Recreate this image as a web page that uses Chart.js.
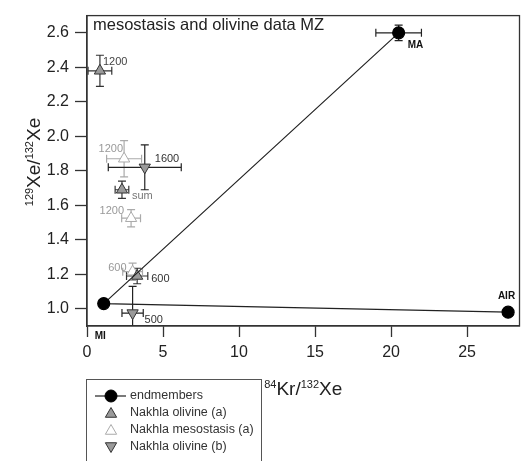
<!DOCTYPE html>
<html>
<head>
<meta charset="utf-8">
<script src="https://cdn.jsdelivr.net/npm/chart.js@4.4.1/dist/chart.umd.min.js"></script>
<style>
  body { margin: 0; background: #fff; }
  #wrap { width: 527px; height: 461px; position: relative; }
</style>
</head>
<body>
<div id="wrap"><canvas id="grafico"></canvas></div>
<script>
const FONT = "'Liberation Sans', Arial, sans-serif";

// endmembers, connected MA - MI - AIR
const endNames = ['MA', 'MI', 'AIR'];
const endX = [20.5, 1.1, 27.7];
const endY = [2.60, 1.03, 0.98];
const endXErr = [1.5, 0, 0];
const endYErr = [0.045, 0, 0];

// Nakhla olivine (a)
const olAStep = ['1200', 'sum', '600'];
const olAX = [0.85, 2.3, 3.3];
const olAY = [2.38, 1.69, 1.19];
const olAXErr = [0.78, 0.45, 0.7];
const olAYErr = [0.09, 0.05, 0.045];

// Nakhla mesostasis (a)
const mesoStep = ['1200', '1200', '600'];
const mesoX = [2.44, 2.9, 3.0];
const mesoY = [1.87, 1.525, 1.215];
const mesoXErr = [1.15, 0.62, 0.65];
const mesoYErr = [0.105, 0.05, 0.05];

// Nakhla olivine (b)
const olBStep = ['1600', '500'];
const olBX = [3.8, 3.0];
const olBY = [1.82, 0.975];
const olBXErr = [2.4, 0.7];
const olBYErr = [0.13, 0.155];

const xTicks = [0, 5, 10, 15, 20, 25];
const yTicks = [1.0, 1.2, 1.4, 1.6, 1.8, 2.0, 2.2, 2.4, 2.6];

// where each step label sits next to its point: [dx, dy, align, color, bold]
const labelPlace = [
  [[9, 12, 'left', '#111', true], [-9, 33, 'left', '#111', true], [7, -16, 'right', '#111', true]],
  [[3, -9, 'left', '#444'], [10, 6, 'left', '#777'], [14, 3, 'left', '#333']],
  [[-1, -10, 'right', '#999'], [-7, -7, 'right', '#999'], [-6, -4, 'right', '#999']],
  [[10, -8, 'left', '#333'], [12, 7, 'left', '#333']]
];

function toPts(xs, ys) {
  return xs.map((x, i) => ({ x: x, y: ys[i] }));
}

function drawSupText(ctx, parts, x, y, size, supSize) {
  let w = 0;
  parts.forEach(p => {
    ctx.font = (p[1] ? supSize : size) + 'px ' + FONT;
    w += ctx.measureText(p[0]).width;
  });
  let cx = x - w / 2;
  ctx.textAlign = 'left';
  ctx.textBaseline = 'alphabetic';
  parts.forEach(p => {
    ctx.font = (p[1] ? supSize : size) + 'px ' + FONT;
    ctx.fillText(p[0], cx, p[1] ? y - 7 : y);
    cx += ctx.measureText(p[0]).width;
  });
}

const errPlugin = {
  id: 'errorbars',
  beforeDatasetsDraw(chart) {
    const ctx = chart.ctx, sx = chart.scales.x, sy = chart.scales.y, a = chart.chartArea;
    ctx.save();
    ctx.beginPath();
    ctx.rect(a.left, a.top, a.right - a.left, a.bottom - a.top);
    ctx.clip();
    chart.data.datasets.forEach(ds => {
      ctx.strokeStyle = ds.errColor;
      ctx.lineWidth = 1.2;
      ds.data.forEach((p, i) => {
        const px = sx.getPixelForValue(p.x), py = sy.getPixelForValue(p.y);
        const ex = ds.xErr[i], ey = ds.yErr[i];
        ctx.beginPath();
        if (ex) {
          const l = sx.getPixelForValue(p.x - ex), r = sx.getPixelForValue(p.x + ex);
          ctx.moveTo(l, py); ctx.lineTo(r, py);
          ctx.moveTo(l, py - 4); ctx.lineTo(l, py + 4);
          ctx.moveTo(r, py - 4); ctx.lineTo(r, py + 4);
        }
        if (ey) {
          const t = sy.getPixelForValue(p.y + ey), b = sy.getPixelForValue(p.y - ey);
          ctx.moveTo(px, t); ctx.lineTo(px, b);
          ctx.moveTo(px - 4, t); ctx.lineTo(px + 4, t);
          ctx.moveTo(px - 4, b); ctx.lineTo(px + 4, b);
        }
        ctx.stroke();
      });
    });
    ctx.restore();
  },
  afterDatasetsDraw(chart) {
    const ctx = chart.ctx, sx = chart.scales.x, sy = chart.scales.y;
    ctx.save();
    ctx.textBaseline = 'middle';
    chart.data.datasets.forEach((ds, di) => {
      ds.data.forEach((p, i) => {
        const pl = labelPlace[di][i];
        ctx.font = (pl[4] ? 'bold 10px ' : '11px ') + FONT;
        ctx.fillStyle = pl[3];
        ctx.textAlign = pl[2];
        ctx.fillText(ds.steps[i], sx.getPixelForValue(p.x) + pl[0], sy.getPixelForValue(p.y) + pl[1]);
      });
    });
    ctx.restore();
  },
  afterDraw(chart) {
    const ctx = chart.ctx, a = chart.chartArea;
    ctx.save();
    // frame
    ctx.strokeStyle = '#333';
    ctx.lineWidth = 1.3;
    ctx.strokeRect(a.left, a.top, a.right - a.left, a.bottom - a.top);

    // inside title
    ctx.fillStyle = '#222';
    ctx.font = '16.5px ' + FONT;
    ctx.textAlign = 'left';
    ctx.textBaseline = 'alphabetic';
    ctx.fillText('mesostasis and olivine data MZ', a.left + 6, 30);

    // axis titles
    drawSupText(ctx, [['84', 1], ['Kr/', 0], ['132', 1], ['Xe', 0]], (a.left + a.right) / 2, 395, 19, 11);
    ctx.save();
    ctx.translate(40, 162);
    ctx.rotate(-Math.PI / 2);
    drawSupText(ctx, [['129', 1], ['Xe/', 0], ['132', 1], ['Xe', 0]], 0, 0, 19, 11);
    ctx.restore();

    // legend
    ctx.strokeStyle = '#555';
    ctx.lineWidth = 1;
    ctx.strokeRect(86.5, 379.5, 175, 100);
    chart.data.datasets.forEach((ds, i) => {
      const ly = 396 + i * 17;
      if (ds.showLine) {
        ctx.strokeStyle = ds.borderColor;
        ctx.lineWidth = 1.2;
        ctx.beginPath(); ctx.moveTo(95, ly); ctx.lineTo(126, ly); ctx.stroke();
      }
      ctx.fillStyle = ds.pointBackgroundColor;
      ctx.strokeStyle = ds.pointBorderColor;
      ctx.lineWidth = 1;
      Chart.helpers.drawPoint(ctx, {
        pointStyle: ds.pointStyle, radius: ds.pointRadius,
        rotation: ds.pointRotation || 0, borderWidth: 1
      }, 111, ly + (ds.pointStyle === 'triangle' ? (ds.pointRotation ? -1 : 1) : 0));
      ctx.fillStyle = '#333';
      ctx.font = '12.5px ' + FONT;
      ctx.textAlign = 'left';
      ctx.textBaseline = 'middle';
      ctx.fillText(ds.label, 130, ly);
    });
    ctx.restore();
  }
};

const ctx = document.getElementById('grafico').getContext('2d');

const grafico = new Chart(ctx, {
  type: 'scatter',
  data: {
    datasets: [
      {
        label: 'endmembers',
        data: toPts(endX, endY),
        steps: endNames, xErr: endXErr, yErr: endYErr, errColor: '#222',
        showLine: true,
        borderColor: '#222',
        borderWidth: 1.2,
        pointStyle: 'circle',
        pointRadius: 6,
        pointBackgroundColor: '#000',
        pointBorderColor: '#000',
        tension: 0,
      },
      {
        label: 'Nakhla olivine (a)',
        data: toPts(olAX, olAY),
        steps: olAStep, xErr: olAXErr, yErr: olAYErr, errColor: '#333',
        pointStyle: 'triangle',
        pointRadius: 6.5,
        pointBackgroundColor: '#9a9a9a',
        pointBorderColor: '#333',
        pointBorderWidth: 1,
      },
      {
        label: 'Nakhla mesostasis (a)',
        data: toPts(mesoX, mesoY),
        steps: mesoStep, xErr: mesoXErr, yErr: mesoYErr, errColor: '#aaa',
        pointStyle: 'triangle',
        pointRadius: 6.5,
        pointBackgroundColor: '#fff',
        pointBorderColor: '#aaa',
        pointBorderWidth: 1,
      },
      {
        label: 'Nakhla olivine (b)',
        data: toPts(olBX, olBY),
        steps: olBStep, xErr: olBXErr, yErr: olBYErr, errColor: '#222',
        pointStyle: 'triangle',
        pointRotation: 180,
        pointRadius: 6.5,
        pointBackgroundColor: '#9a9a9a',
        pointBorderColor: '#333',
        pointBorderWidth: 1,
      },
    ],
  },
  options: {
    responsive: true,
    maintainAspectRatio: false,
    animation: false,
    devicePixelRatio: 1,
    layout: { padding: { top: 10, right: 3, left: 0, bottom: 0 } },
    plugins: {
      legend: { display: false },
      tooltip: { enabled: false },
    },
    scales: {
      x: {
        type: 'linear',
        min: 0,
        max: 28.45,
        afterBuildTicks: s => { s.ticks = xTicks.map(v => ({ value: v })); },
        afterFit: s => { s.height = 135; },
        grid: { drawOnChartArea: false, drawTicks: true, tickLength: 11, color: '#333', tickWidth: 1.3 },
        border: { display: true, color: '#333', width: 1.3 },
        ticks: {
          padding: 6,
          color: '#222',
          font: { family: FONT, size: 16 },
          maxRotation: 0,
          callback: v => v,
        },
      },
      y: {
        type: 'linear',
        min: 0.9,
        max: 2.7,
        afterBuildTicks: s => { s.ticks = yTicks.map(v => ({ value: v })); },
        afterFit: s => { s.width = 87; },
        grid: { drawOnChartArea: false, drawTicks: true, tickLength: 12, color: '#333', tickWidth: 1.3 },
        border: { display: true, color: '#333', width: 1.3 },
        ticks: {
          padding: 6,
          color: '#222',
          font: { family: FONT, size: 16 },
          callback: v => v.toFixed(1),
        },
      },
    },
  },
  plugins: [errPlugin],
});
</script>
</body>
</html>
